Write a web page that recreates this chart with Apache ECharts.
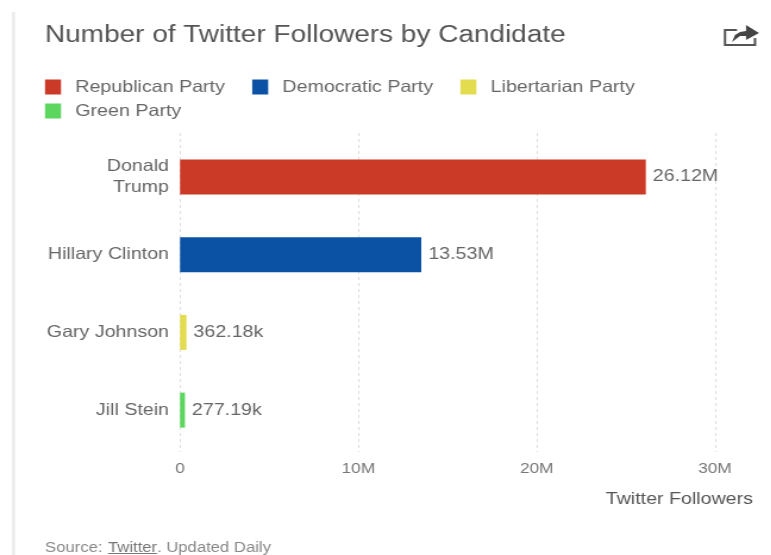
<!DOCTYPE html>
<html>
<head>
<meta charset="utf-8">
<style>
html,body{margin:0;padding:0;background:#fff;overflow:hidden;width:771px;height:555px}
/* The chart is drawn narrower and widened, which gives its text the broad proportions of the layout */
#chart{width:648px;height:555px;transform-origin:0 0;transform:scaleX(1.19)}
</style>
<script src="https://cdn.jsdelivr.net/npm/echarts@6/dist/echarts.min.js"></script>
</head>
<body>
<div id="chart"></div>
<script>
// Follower counts per candidate; each party is its own series so the legend lists parties.
const candidates = ['Donald\nTrump', 'Hillary Clinton', 'Gary Johnson', 'Jill Stein'];
const republican = [26120000, null, null, null];
const democratic = [null, 13530000, null, null];
const libertarian = [null, null, 362180, null];
const green = [null, null, null, 277190];
const partyNames = ['Republican Party', 'Democratic Party', 'Libertarian Party', 'Green Party'];
const partyColors = ['#cb3a26', '#0b52a5', '#e3dc4e', '#5cd65f'];
const partyValues = [republican, democratic, libertarian, green];
const axisTicks = [0, 10000000, 20000000, 30000000];
const axisTickLabels = ['0', '10M', '20M', '30M'];

const FONT = '"Liberation Sans", Arial, sans-serif';
const STRETCH = 1.19;
// Converts a horizontal page position to the chart's narrower coordinate space.
const sx = x => x / STRETCH;

function shortNumber(v) {
  return v >= 1e6 ? (v / 1e6).toFixed(2) + 'M' : (v / 1e3).toFixed(2) + 'k';
}

const chart = echarts.init(document.getElementById('chart'), null, { renderer: 'canvas' });

chart.setOption({
  animation: false,
  backgroundColor: '#fff',
  textStyle: { fontFamily: FONT },
  title: {
    text: 'Number of Twitter Followers by Candidate',
    left: sx(45), top: 24, padding: 0,
    textStyle: { fontFamily: FONT, fontSize: 23.5, fontWeight: 'normal', color: '#555' }
  },
  legend: {
    left: sx(45), top: 78, width: 550, padding: 0,
    itemWidth: sx(16), itemHeight: 15, itemGap: 6,
    icon: 'rect',
    data: partyNames,
    // Right padding keeps items apart across a row; itemGap alone sets the row spacing
    textStyle: { fontFamily: FONT, fontSize: 16.5, color: '#666', padding: [0, 17, 0, 7], lineHeight: 18 }
  },
  grid: [
    // Taller backdrop grid carrying the dashed guides and the tick labels
    { left: sx(180), top: 133, width: sx(535), height: 319 },
    // Grid the bars are laid out in
    { left: sx(180), top: 138, width: sx(535), height: 311 }
  ],
  xAxis: [
    {
      gridIndex: 0, type: 'value', min: 0, max: 30000000, interval: 10000000,
      axisLine: { show: false }, axisTick: { show: false },
      splitLine: { show: true, lineStyle: { type: [3, 3], color: '#dedede', width: 1 } },
      axisLabel: {
        margin: 9, fontFamily: FONT, fontSize: 14.5, color: '#777',
        formatter: v => axisTickLabels[axisTicks.indexOf(v)]
      },
      name: 'Twitter Followers',
      nameLocation: 'end', nameGap: sx(38),
      nameTextStyle: {
        fontFamily: FONT, fontSize: 16.5, color: '#555',
        align: 'right', verticalAlign: 'top', padding: [39, 0, 0, 0]
      }
    },
    {
      gridIndex: 1, type: 'value', min: 0, max: 30000000, interval: 10000000,
      show: false, splitLine: { show: false }
    }
  ],
  yAxis: [
    { gridIndex: 0, type: 'value', show: false, min: 0, max: 1, splitLine: { show: false } },
    {
      gridIndex: 1, type: 'category', inverse: true, data: candidates,
      axisLine: { show: false }, axisTick: { show: false },
      axisLabel: { margin: sx(11), fontFamily: FONT, fontSize: 16.5, color: '#666', lineHeight: 21, align: 'right' }
    }
  ],
  series: partyNames.map((name, i) => ({
    name,
    type: 'bar',
    xAxisIndex: 1,
    yAxisIndex: 1,
    barWidth: 35,
    barGap: '-100%',
    itemStyle: { color: partyColors[i] },
    label: {
      show: true, position: 'right', distance: sx(7),
      fontFamily: FONT, fontSize: 16.5, color: '#666',
      formatter: p => shortNumber(p.value)
    },
    data: partyValues[i]
  })),
  graphic: [
    // Card edge on the left
    { type: 'rect', x: sx(12), y: 12, shape: { width: sx(3), height: 543 }, style: { fill: '#ececec' }, silent: true },
    // Source line
    { type: 'text', x: sx(45), y: 541, style: { text: 'Source: ', fontFamily: FONT, fontSize: 14, fill: '#888' } },
    { type: 'text', x: sx(108), y: 541, style: { text: 'Twitter', fontFamily: FONT, fontSize: 14, fill: '#777' } },
    { type: 'rect', x: sx(108), y: 553, shape: { width: sx(49), height: 1 }, style: { fill: '#777' } },
    { type: 'text', x: sx(157), y: 541, style: { text: '. Updated Daily', fontFamily: FONT, fontSize: 14, fill: '#888' } },
    // Export icon: open tray with a curved arrow
    {
      type: 'polyline',
      shape: { points: [[sx(737), 30], [sx(725), 30], [sx(725), 45], [sx(755), 45], [sx(755), 38]] },
      style: { stroke: '#555', lineWidth: 2, fill: 'none' }
    },
    {
      type: 'polygon',
      shape: { points: [[sx(732), 42], [sx(735), 35], [sx(740), 32], [sx(746), 31], [sx(746), 25], [sx(759), 33], [sx(746), 40], [sx(746), 36], [sx(740), 36]] },
      style: { fill: '#444' }
    }
  ]
});
</script>
</body>
</html>
